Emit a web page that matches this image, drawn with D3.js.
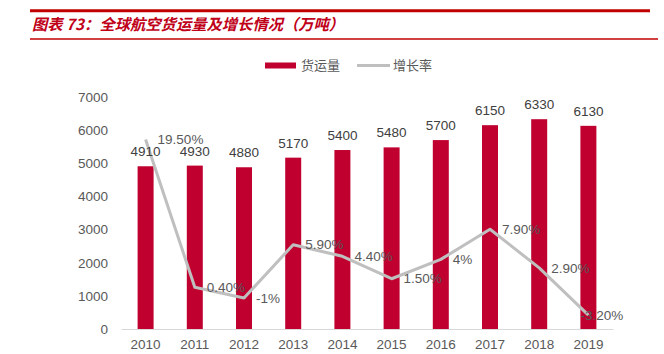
<!DOCTYPE html>
<html><head><meta charset="utf-8">
<script src="https://cdn.jsdelivr.net/npm/d3@7/dist/d3.min.js"></script>
<style>
html,body{margin:0;padding:0;background:#fff;}
svg{display:block;}
</style></head>
<body>
<svg id="chart" width="664" height="354"></svg>
<script>
const years = ["2010","2011","2012","2013","2014","2015","2016","2017","2018","2019"];
const volume = [4910,4930,4880,5170,5400,5480,5700,6150,6330,6130];
const growth = [19.5,0.4,-1,5.9,4.4,1.5,4,7.9,2.9,-3.2];
const growthLabels = ["19.50%","0.40%","-1%","5.90%","4.40%","1.50%","4%","7.90%","2.90%","-3.20%"];
const yTicks = [0,1000,2000,3000,4000,5000,6000,7000];
const title = "图表 73：全球航空货运量及增长情况（万吨）";
const legendNames = ["货运量","增长率"];

const svg = d3.select("#chart");
const latin = "'Liberation Sans', Arial, sans-serif";
const cjk = "'Noto Sans CJK SC', sans-serif";
const red = "#C0002F";
const gray = "#BFBFBF";
const textCol = "#595959";

// title block
svg.append("line").attr("x1",30).attr("x2",650).attr("y1",10.7).attr("y2",10.7)
  .attr("stroke","#C00000").attr("stroke-width",3);
svg.append("line").attr("x1",30).attr("x2",658).attr("y1",39).attr("y2",39)
  .attr("stroke","#C00000").attr("stroke-width",1.3);
svg.append("text").attr("x",32).attr("y",29.5).text(title)
  .attr("font-family",cjk).attr("font-size",15.3).attr("font-weight","bold")
  .attr("font-style","italic").attr("fill","#C00018");

const x = d3.scaleBand().domain(years).range([121,613]).paddingInner(0.675).paddingOuter(0.3375);
const y = d3.scaleLinear().domain([0,7000]).range([329,97]);
const y2 = d3.scaleLinear().domain([-5,25]).range([329,97]);

// y axis labels
const yAxis = d3.axisLeft(y).tickValues(yTicks).tickFormat(d3.format("d")).tickSize(0).tickPadding(0);
const gy = svg.append("g").attr("transform","translate(108,0)").call(yAxis);
gy.select(".domain").remove();
gy.selectAll("text").attr("font-family",latin).attr("font-size",13.5).attr("fill",textCol);

// bars
svg.selectAll("rect.bar").data(volume).enter().append("rect").attr("class","bar")
  .attr("x",(d,i)=>x(years[i])).attr("width",x.bandwidth())
  .attr("y",d=>y(d)).attr("height",d=>y(0)-y(d)).attr("fill",red);

// x axis
const xAxis = d3.axisBottom(x).tickSize(0).tickPadding(10);
const gx = svg.append("g").attr("transform","translate(0,329)").call(xAxis);
gx.select(".domain").attr("stroke","#D9D9D9").attr("stroke-width",1);
gx.selectAll("text").attr("font-family",latin).attr("font-size",13.5).attr("fill",textCol);

// growth line
const cx = i => x(years[i]) + x.bandwidth()/2;
const line = d3.line().x((d,i)=>cx(i)).y(d=>y2(d));
svg.append("path").datum(growth).attr("d",line).attr("fill","none")
  .attr("stroke",gray).attr("stroke-width",3).attr("stroke-linejoin","round");

// bar labels (drawn above the line)
svg.selectAll("text.vl").data(volume).enter().append("text").attr("class","vl")
  .attr("x",(d,i)=>x(years[i])+x.bandwidth()/2).attr("y",d=>y(d)-10)
  .attr("text-anchor","middle").attr("font-family",latin).attr("font-size",13.5)
  .attr("fill","#404040").text(d=>d);

svg.selectAll("text.gl").data(growth).enter().append("text").attr("class","gl")
  .attr("x",(d,i)=>cx(i) + (i===growth.length-1 ? -8 : 12))
  .attr("y",d=>y2(d)).attr("dy","0.35em")
  .attr("font-family",latin).attr("font-size",13.5).attr("fill",textCol)
  .text((d,i)=>growthLabels[i]);

// legend
svg.append("rect").attr("x",265).attr("y",62.5).attr("width",31).attr("height",6).attr("fill",red);
svg.append("text").attr("x",301).attr("y",70).text(legendNames[0])
  .attr("font-family",cjk).attr("font-size",13).attr("fill",textCol);
svg.append("line").attr("x1",357).attr("x2",390).attr("y1",65.5).attr("y2",65.5)
  .attr("stroke",gray).attr("stroke-width",3);
svg.append("text").attr("x",393).attr("y",70).text(legendNames[1])
  .attr("font-family",cjk).attr("font-size",13).attr("fill",textCol);
</script>
</body></html>
